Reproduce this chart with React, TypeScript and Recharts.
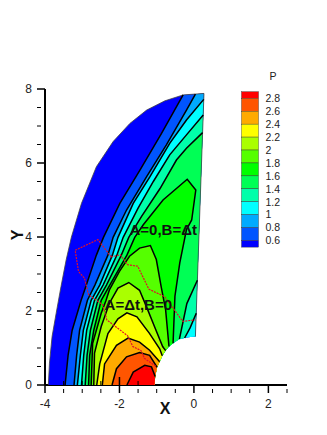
import { ScatterChart, Scatter, XAxis, YAxis } from 'recharts';

type Pair = [number, number];

// shock (outer edge of the domain), bottom to top
const shock: Pair[] = [[-3.91, 0], [-3.88, 0.59], [-3.81, 1.31], [-3.7, 1.94], [-3.57, 2.66], [-3.43, 3.39], [-3.29, 4], [-3.02, 4.91], [-2.62, 5.9], [-2.17, 6.58], [-1.72, 7.07], [-1.27, 7.43], [-0.78, 7.68], [-0.29, 7.84]];
// right edge then the body arc
const rim: Pair[] = [[0.27, 7.88], [0.04, 1.31], [-0.16, 1.29], [-0.39, 1.24], [-0.56, 1.13], [-0.67, 1.04], [-0.76, 0.93], [-0.85, 0.79], [-0.92, 0.63], [-0.99, 0.48], [-1.04, 0.23], [-1.06, 0]];

const contour06: Pair[] = [[-3.46, 0], [-3.38, 0.8], [-3.27, 1.48], [-3.03, 2.29], [-2.89, 2.7], [-2.62, 3.51], [-2.43, 3.99], [-1.99, 4.91], [-1.45, 5.81], [-0.87, 6.8], [-0.29, 7.84]];
const contour08: Pair[] = [[-3.22, 0], [-3.15, 0.8], [-3.07, 1.48], [-2.86, 2.29], [-2.66, 2.7], [-2.31, 3.51], [-2.17, 3.99], [-1.81, 4.73], [-1.27, 5.63], [-0.74, 6.49], [-0.2, 7.43], [0.04, 7.86]];
const contour10: Pair[] = [[-3.13, 0], [-3.05, 0.8], [-2.97, 1.48], [-2.76, 2.29], [-2.53, 2.7], [-2.19, 3.51], [-2.04, 3.99], [-1.63, 4.91], [-1.18, 5.63], [-0.65, 6.53], [-0.2, 7.16], [0.264, 7.72]];
const contour12: Pair[] = [[-3.02, 0], [-2.96, 0.8], [-2.88, 1.48], [-2.67, 2.29], [-2.44, 2.7], [-2.07, 3.51], [-1.9, 3.99], [-1.5, 4.78], [-1.09, 5.5], [-0.65, 6.22], [-0.2, 6.76], [0.25, 7.3]];
const contour12b: Pair[] = [[0.063, 1.94], [-0.1, 1.55], [-0.25, 1.27]];
const contour14: Pair[] = [[-2.92, 0], [-2.87, 0.8], [-2.78, 1.48], [-2.58, 2.29], [-2.35, 2.7], [-1.95, 3.51], [-1.75, 3.99], [-1.41, 4.55], [-0.91, 5.31], [-0.47, 6.08], [-0.2, 6.4], [0.233, 6.82]];
const contour14b: Pair[] = [[0.093, 2.83], [-0.19, 2.2], [-0.39, 1.24]];
const contour16: Pair[] = [[-2.83, 0], [-2.8, 0.8], [-2.69, 1.48], [-2.49, 2.29], [-2.26, 2.7], [-1.8, 3.51], [-1.59, 3.99], [-1.36, 4.33], [-0.83, 5], [-0.18, 5.56], [0.05, 5.27], [-0.06, 4.46], [-0.2, 4.2], [-0.38, 3.3], [-0.51, 2.4], [-0.56, 1.13]];
const contour18: Pair[] = [[-2.76, 0], [-2.72, 1.13], [-2.49, 1.94], [-2.36, 2.29], [-2.27, 2.57], [-2, 3.07], [-1.73, 3.48], [-1.46, 3.7], [-1.17, 3.77], [-1.01, 3.39], [-0.88, 2.66], [-0.76, 2.03], [-0.67, 1.04]];
const contour20: Pair[] = [[-2.69, 0], [-2.67, 0.86], [-2.49, 1.58], [-2.27, 2.21], [-2.04, 2.62], [-1.75, 2.77], [-1.46, 2.56], [-1.24, 2.03], [-1.06, 1.58], [-0.84, 1.04], [-0.76, 0.93]];
const contour22: Pair[] = [[-2.61, 0], [-2.53, 0.57], [-2.31, 1.39], [-2.04, 1.79], [-1.8, 1.95], [-1.53, 1.84], [-1.19, 1.39], [-0.92, 0.98], [-0.85, 0.79]];
const contour24: Pair[] = [[-2.46, 0], [-2.4, 0.57], [-2.08, 1.07], [-1.77, 1.27], [-1.46, 1.16], [-1.19, 0.94], [-0.92, 0.63]];
const contour26: Pair[] = [[-2.2, 0], [-2.08, 0.44], [-1.81, 0.76], [-1.46, 0.88], [-1.19, 0.8], [-0.99, 0.48]];
const contour28: Pair[] = [[-1.8, 0], [-1.63, 0.35], [-1.32, 0.53], [-1.14, 0.49], [-1.04, 0.23]];

// red dashed curves
const dashedA: Pair[] = [[-2.22, 3.46], [-2.58, 3.93], [-3.19, 3.64], [-3.1, 3.07], [-2.94, 2.89], [-2.83, 2.44], [-2.45, 2.17], [-2.34, 1.76], [-1.78, 1.33], [-1.64, 1.04], [-1.42, 0.93], [-1.33, 0.72], [-1.01, 0.5]];
const dashedB: Pair[] = [[-2.22, 3.46], [-1.98, 3.52], [-1.78, 3.25], [-1.51, 3.21], [-1.21, 2.59], [-0.79, 2.39], [-0.3, 1.72], [0.04, 1.76]];

const notes = [
  { x: -1.73, y: 4.05, text: 'A=0,B=Δt' },
  { x: -2.4, y: 2.02, text: 'A=Δt,B=0' },
];

const levels = ['0.6', '0.8', '1', '1.2', '1.4', '1.6', '1.8', '2', '2.2', '2.4', '2.6', '2.8'];
const bandColors = ['#0000ff', '#0055ff', '#00aaff', '#00ffff', '#00ffaa', '#00ff55', '#00ff00', '#55ff00', '#aaff00', '#ffff00', '#ffaa00', '#ff5500', '#ff0000'];

const xTicks = [-4, -3.5, -3, -2.5, -2, -1.5, -1, -0.5, 0, 0.5, 1, 1.5, 2, 2.5];
const yTicks = [0, 0.5, 1, 1.5, 2, 2.5, 3, 3.5, 4, 4.5, 5, 5.5, 6, 6.5, 7, 7.5, 8];

const pts = (pairs: Pair[]) => pairs.map(([x, y]) => ({ x, y }));

// region above each level: contour, then round the rim back to the bottom edge
const regions: Pair[][] = [
  [...shock, ...rim],
  [...contour06, ...rim],
  [...contour08, ...rim],
  [...contour10, ...rim.slice(1)],
  [...contour12, ...contour12b, ...rim.slice(3)],
  [...contour14, ...contour14b, ...rim.slice(4)],
  [...contour16, ...rim.slice(5)],
  [...contour18, ...rim.slice(6)],
  [...contour20, ...rim.slice(7)],
  [...contour22, ...rim.slice(8)],
  [...contour24, ...rim.slice(9)],
  [...contour26, ...rim.slice(10)],
  [...contour28, ...rim.slice(11)],
];
const contourLines = [contour06, contour08, contour10, contour12, contour12b, contour14, contour14b, contour16, contour18, contour20, contour22, contour24, contour26, contour28];

const font = '"Liberation Sans", Arial, sans-serif';
const noDot = () => <g />;

function NoteText({ cx, cy, payload }: any) {
  return <text x={cx} y={cy} fontFamily={font} fontWeight="bold" fontSize={15} fill="#111">{payload.text}</text>;
}

// tick marks show over the contour fill, so they are drawn again on top of it
function TickOverlay({ cx, cy, payload }: any) {
  const major = payload.x % 2 === 0;
  return <line x1={cx} x2={cx} y1={cy} y2={cy - (major ? 8 : 4)} stroke="#000" strokeWidth={major ? 1.5 : 1} />;
}

function XTick({ x, y, payload }: any) {
  const major = payload.value % 2 === 0;
  return (
    <g>
      <line x1={x} x2={x} y1={y} y2={y - (major ? 8 : 4)} stroke="#000" strokeWidth={major ? 1.5 : 1} />
      {major && <text x={x} y={y + 15} textAnchor="middle" fontFamily={font} fontSize={12} fill="#222">{payload.value}</text>}
    </g>
  );
}

function YTick({ x, y, payload }: any) {
  const major = payload.value % 2 === 0;
  return (
    <g>
      <line x1={x} x2={x + (major ? 8 : 4)} y1={y} y2={y} stroke="#000" strokeWidth={major ? 1.5 : 1} />
      {major && <text x={x - 5} y={y + 4} textAnchor="end" fontFamily={font} fontSize={12} fill="#222">{payload.value}</text>}
    </g>
  );
}

function ColorBar() {
  const top = 91.7;
  const first = 6.6;
  const step = 12.93;
  return (
    <g fontFamily={font} fontSize={10.5} fill="#222">
      <text x={273} y={80} textAnchor="middle">P</text>
      {bandColors.map((c, i) => {
        const idx = bandColors.length - 1 - i;
        const y = i === 0 ? top : top + first + (i - 1) * step;
        const h = i === 0 || i === bandColors.length - 1 ? first : step;
        return <rect key={c} x={241.5} y={y} width={17} height={h} fill={bandColors[idx]} stroke="#333" strokeWidth={0.4} />;
      })}
      {[...levels].reverse().map((l, i) => (
        <text key={l} x={265.5} y={top + first + i * step + 3.8} fill="#222">{l}</text>
      ))}
    </g>
  );
}

export default function App() {
  return (
    <div style={{ position: 'absolute', left: 0, top: 0 }}>
      <ScatterChart width={327} height={435} margin={{ top: 89, right: 40, bottom: 0, left: 0 }}>
        <XAxis type="number" dataKey="x" domain={[-4, 2.5]} ticks={xTicks} interval={0} height={50} tick={<XTick />} tickLine={false} axisLine={{ stroke: '#000', strokeWidth: 2 }} />
        <YAxis type="number" dataKey="y" domain={[0, 8]} ticks={yTicks} interval={0} width={45} tick={<YTick />} tickLine={false} axisLine={{ stroke: '#000', strokeWidth: 2 }} />
        {regions.map((r, i) => (
          <Scatter key={`band-${i}`} data={pts(r)} shape={noDot} isAnimationActive={false} lineJointType="linearClosed" line={{ fill: bandColors[i], stroke: 'none' }} />
        ))}
        <Scatter data={pts([...shock, ...rim.slice(0, 2)])} shape={noDot} isAnimationActive={false} line={{ stroke: '#444', strokeWidth: 0.8 }} />
        {contourLines.map((l, i) => (
          <Scatter key={`line-${i}`} data={pts(l)} shape={noDot} isAnimationActive={false} line={{ stroke: '#000', strokeWidth: 1.5 }} />
        ))}
        <Scatter data={pts(dashedA)} shape={noDot} isAnimationActive={false} line={{ stroke: '#e0102a', strokeWidth: 1.2, strokeDasharray: '2 1' }} />
        <Scatter data={pts(dashedB)} shape={noDot} isAnimationActive={false} line={{ stroke: '#e0102a', strokeWidth: 1.2, strokeDasharray: '2 1' }} />
        <Scatter data={xTicks.filter((t) => t > -4 && t < -1).map((x) => ({ x, y: 0 }))} shape={<TickOverlay />} isAnimationActive={false} />
        <Scatter data={notes} shape={<NoteText />} isAnimationActive={false} />
        <text x={165} y={414} textAnchor="middle" fontFamily={font} fontWeight="bold" fontSize={16} fill="#111">X</text>
        <text x={23} y={235} textAnchor="middle" transform="rotate(-90 23 235)" fontFamily={font} fontWeight="bold" fontSize={16} fill="#111">Y</text>
        <ColorBar />
      </ScatterChart>
    </div>
  );
}
